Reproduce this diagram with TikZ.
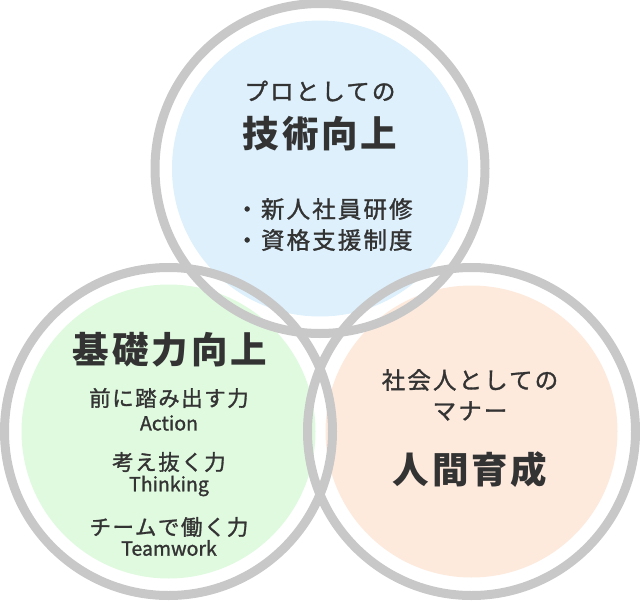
\documentclass[tikz,border=0pt]{standalone}
\usepackage{fontspec}
\setmainfont{Noto Sans CJK JP}
\definecolor{ringgray}{RGB}{200,200,200}
\definecolor{fillblue}{RGB}{221,240,252}
\definecolor{fillgreen}{RGB}{224,250,224}
\definecolor{fillorange}{RGB}{253,234,221}
\definecolor{txt}{RGB}{51,51,51}
\tikzset{
  ring/.style={draw=ringgray, line width=9pt},
  big/.style={text=txt, inner sep=0pt, font=\fontsize{36.5}{40}\selectfont\bfseries\addfontfeature{LetterSpace=8}},
  mid/.style={text=txt, inner sep=0pt, font=\fontsize{23.5}{26}\selectfont\addfontfeature{LetterSpace=9,FakeBold=1.3}},
  sml/.style={text=txt, inner sep=0pt, font=\fontsize{21.5}{24}\selectfont\addfontfeature{LetterSpace=7,FakeBold=1.3}},
  lat/.style={text=txt, inner sep=0pt, font=\fontsize{19.5}{21}\selectfont\addfontfeature{FakeBold=1.3}},
}
\begin{document}
\begin{tikzpicture}[x=1pt,y=-1pt]
\useasboundingbox (0,0) rectangle (640,600);
% fills
\fill[fillblue] (320,168.5) circle (148);
\fill[fillgreen] (168.5,431.5) circle (147);
\fill[fillorange] (471.5,431.5) circle (146);
% rings
\draw[ring] (320,168.5) circle (165);
\draw[ring] (168.5,431.5) circle (164);
\draw[ring] (471.5,431.5) circle (164);
% top circle
\node[mid] (t1) at (320,91) {プロとしての};
\node[big] (t2) at (320,134) {技術向上};
\node[mid] (t3) at (324,209) {・新人社員研修};
\node[mid] (t4) at (324,240) {・資格支援制度};
% left circle
\node[big] (l1) at (170,350) {基礎力向上};
\node[sml] (l2) at (169,398) {前に踏み出す力};
\node[lat] (l3) at (169,423) {Action};
\node[sml] (l4) at (169,462) {考え抜く力};
\node[lat] (l5) at (169,486) {Thinking};
\node[sml] (l6) at (169,527) {チームで働く力};
\node[lat] (l7) at (169,548) {Teamwork};
% right circle
\node[mid] (r1) at (470,380) {社会人としての};
\node[mid] (r2) at (470,411) {マナー};
\node[big] (r3) at (470,470) {人間育成};
\end{tikzpicture}
\end{document}
